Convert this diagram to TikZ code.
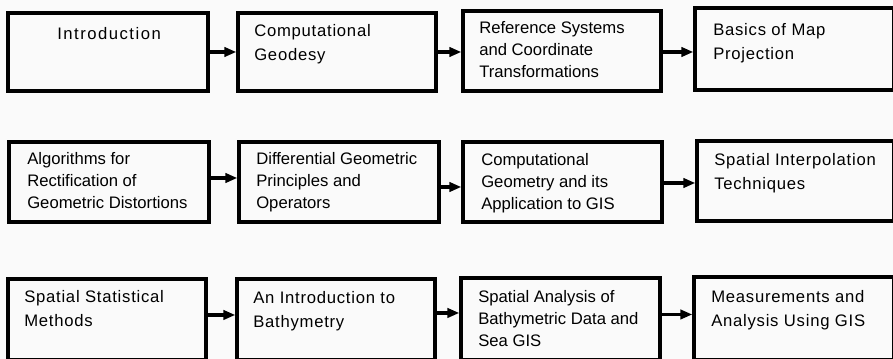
\documentclass[tikz,border=0pt]{standalone}
\usepackage{fontspec}
\setmainfont{Liberation Sans}
\usetikzlibrary{arrows.meta}
\definecolor{paper}{RGB}{250,250,250}
\tikzset{
  box/.style={draw=black, fill=paper, line width=2.5pt, rectangle, inner sep=0pt},
  caption/.style={anchor=north west, inner sep=0pt, align=left,
    font=\fontsize{12.5}{16.5}\selectfont},
  wide/.style={caption, font=\fontsize{12.5}{18}\selectfont\addfontfeatures{LetterSpace=4.5}},
  widest/.style={caption, font=\fontsize{12.5}{18}\selectfont\addfontfeatures{LetterSpace=9}},
  conn/.style={line width=2.3pt, -{Triangle[length=9pt, width=7pt]}}
}
% a box given by the centre lines of its border: name, x1, y1, x2, y2 (pixels)
\newcommand{\chapbox}[5]{%
  \node[box, minimum width={(#4-#2)*0.75pt}, minimum height={(#5-#3)*0.75pt}]
    (#1) at ({(#2+#4)/2},{(#3+#5)/2}) {};}
\begin{document}
\begin{tikzpicture}[x=0.75pt, y=-0.75pt]
\useasboundingbox (0,0) rectangle (893,359);
\clip (0,0) rectangle (893,359);
\fill[paper] (0,0) rectangle (893,359);

% first row
\chapbox{b11}{8}{13}{208}{91}
\chapbox{b12}{238}{13}{436}{91}
\chapbox{b13}{463}{11}{661}{91}
\chapbox{b14}{695}{8}{894}{90}
% second row
\chapbox{b21}{9}{142}{209}{222}
\chapbox{b22}{239}{142}{439}{222}
\chapbox{b23}{463}{142}{662}{222}
\chapbox{b24}{697}{141}{894}{221}
% third row
\chapbox{b31}{8}{279}{206}{359.5}
\chapbox{b32}{237}{279}{435}{359.5}
\chapbox{b33}{461}{278}{660}{359.5}
\chapbox{b34}{694}{277}{894}{359.5}

% chapter titles
\node[widest] (t11) at (57,27) {Introduction};
\node[wide] (t12) at (254,24) {Computational\\Geodesy};
\node[caption] (t13) at (479,21) {Reference Systems\\and Coordinate\\Transformations};
\node[wide] (t14) at (713,23) {Basics of Map\\Projection};

\node[caption] (t21) at (27,152) {Algorithms for\\Rectification of\\Geometric Distortions};
\node[caption] (t22) at (256,152) {Differential Geometric\\Principles and\\Operators};
\node[caption] (t23) at (481,153) {Computational\\Geometry and its\\Application to GIS};
\node[wide] (t24) at (714,153) {Spatial Interpolation\\Techniques};

\node[wide] (t31) at (24,290) {Spatial Statistical\\Methods};
\node[wide] (t32) at (253,291) {An Introduction to\\Bathymetry};
\node[caption] (t33) at (478,290) {Spatial Analysis of\\Bathymetric Data and\\Sea GIS};
\node[wide] (t34) at (711,290) {Measurements and\\Analysis Using GIS};

% reading order
\draw[conn] (b11.east) -- (b11.east -| b12.west);
\draw[conn] (b12.east) -- (b12.east -| b13.west);
\draw[conn] ([yshift=-0.75pt]b13.east) -- ([yshift=-0.75pt]b13.east -| b14.west);

\draw[conn] ([yshift=3pt]b21.east) -- ([yshift=3pt]b21.east -| b22.west);
\draw[conn] ([yshift=-3.75pt]b22.east) -- ([yshift=-3.75pt]b22.east -| b23.west);
\draw[conn] ([yshift=-0.75pt]b23.east) -- ([yshift=-0.75pt]b23.east -| b24.west);

\draw[conn] ([yshift=3.2pt]b31.east) -- ([yshift=3.2pt]b31.east -| b32.west);
\draw[conn] ([yshift=4.7pt]b32.east) -- ([yshift=4.7pt]b32.east -| b33.west);
\draw[conn] ([yshift=3.2pt]b33.east) -- ([yshift=3.2pt]b33.east -| b34.west);
\end{tikzpicture}
\end{document}
